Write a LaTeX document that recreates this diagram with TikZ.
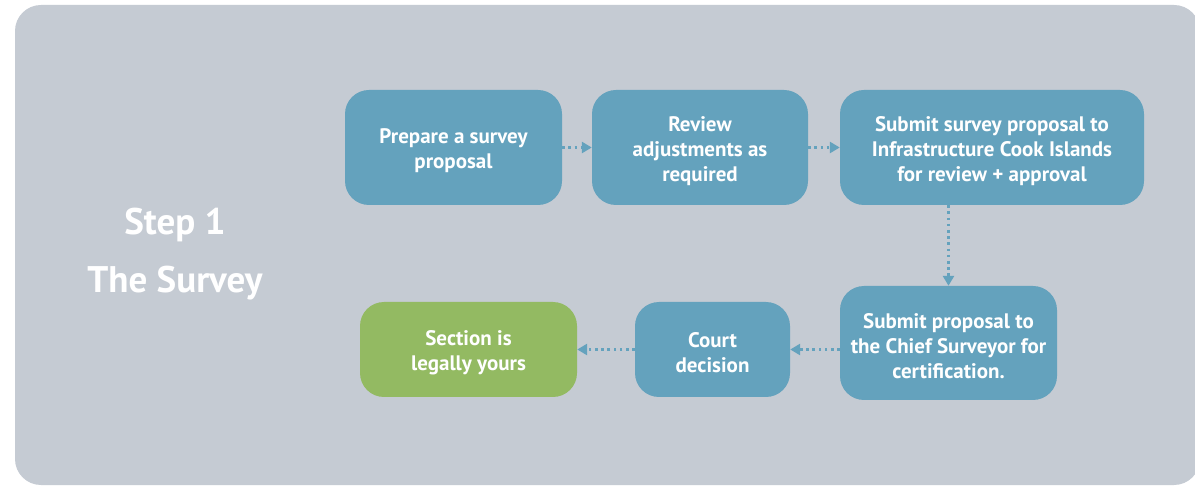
\documentclass[tikz,border=0pt]{standalone}
\usepackage{fontspec}
\setmainfont{PT Sans}
\usetikzlibrary{arrows.meta}
\definecolor{bgGray}{HTML}{C5CBD3}
\definecolor{boxBlue}{HTML}{64A2BD}
\definecolor{boxGreen}{HTML}{93BA62}
\newcommand{\toppad}{\rule{0pt}{22pt}}
\tikzset{
  stepbox/.style={fill=boxBlue, rounded corners=24pt, text=white, align=center, inner sep=0pt,
    font=\bfseries\fontsize{21}{25}\selectfont},
  donebox/.style={stepbox, fill=boxGreen},
  flow/.style={draw=boxBlue, line width=2.6pt, dash pattern=on 2.6pt off 3.6pt,
    -{Triangle[width=11pt,length=10pt]}, shorten >=0pt},
  titletext/.style={text=white, font=\bfseries\fontsize{37}{58}\selectfont, align=center}
}
\begin{document}
\begin{tikzpicture}[x=1pt,y=-1pt]
\useasboundingbox (0,0) rectangle (1195,486);
\fill[white] (0,0) rectangle (1195,486);
\fill[bgGray, rounded corners=26pt] (15,5) rectangle (1200,485);
\node[titletext] (title) at (175,254) {Step 1\\The Survey};
\node[stepbox, minimum width=217pt, minimum height=115pt] (prep) at (453.5,147.5) {\toppad Prepare a survey\\proposal};
\node[stepbox, minimum width=216pt, minimum height=115pt] (rev) at (700,147.5) {\toppad Review\\adjustments as\\required};
\node[stepbox, minimum width=304pt, minimum height=115pt] (ici) at (992,147.5) {\toppad Submit survey proposal to\\Infrastructure Cook Islands\\for review + approval};
\node[stepbox, minimum width=217pt, minimum height=114pt] (chief) at (948.5,343) {\toppad Submit proposal to\\the Chief Surveyor for\\certification.};
\node[stepbox, minimum width=155pt, minimum height=95pt] (court) at (712.5,349.5) {\toppad Court\\decision};
\node[donebox, minimum width=217pt, minimum height=95pt] (sect) at (468.5,349.5) {\toppad Section is\\legally yours};
\draw[flow] (prep.east) -- (rev.west);
\draw[flow] (rev.east) -- (ici.west);
\draw[flow] (chief.north |- ici.south) -- (chief.north);
\draw[flow] (chief.west |- court.east) -- (court.east);
\draw[flow] (court.west) -- (sect.east);
\end{tikzpicture}
\end{document}
